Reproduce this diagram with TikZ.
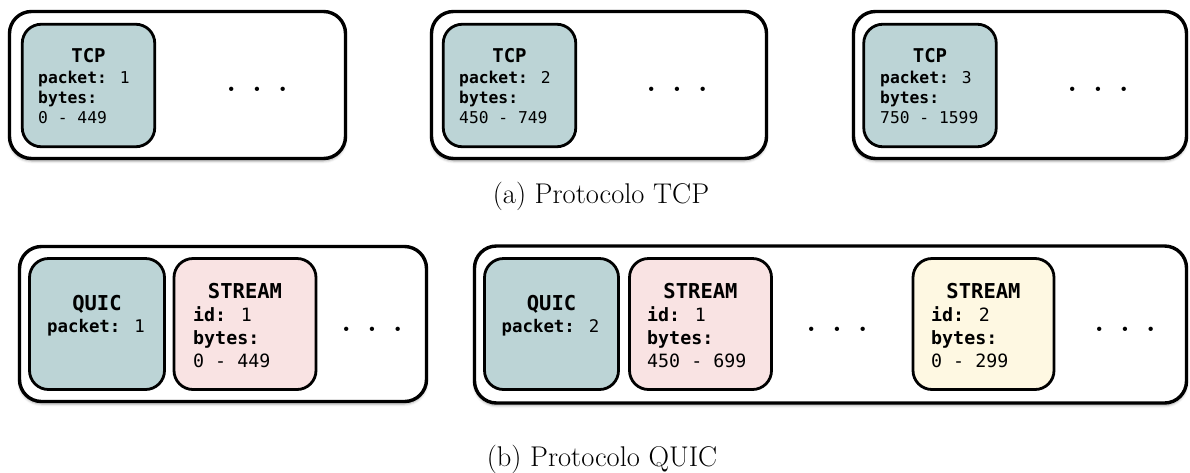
\documentclass[tikz,border=0pt]{standalone}
\usepackage{fontspec}
\newfontfamily\mono{DejaVu Sans Mono}
\usetikzlibrary{shadows.blur}

\definecolor{hdrteal}{RGB}{188,212,214}
\definecolor{streampink}{RGB}{249,227,227}
\definecolor{streamcream}{RGB}{254,248,226}

\newcommand{\moredots}{.\hspace{16.4pt}.\hspace{16.4pt}.}

\tikzset{
  frame/.style={draw=black, line width=3.4pt, rounded corners=22pt, fill=white,
    inner sep=0pt, blur shadow={shadow xshift=0pt, shadow yshift=-2.5pt,
    shadow blur radius=2.5pt, shadow opacity=35}},
  pkt/.style={draw=black, line width=2.8pt, rounded corners=19pt, inner sep=0pt,
    minimum height=131pt},
  tcpbox/.style={pkt, fill=hdrteal, minimum height=122.5pt, minimum width=132.5pt},
  quicbox/.style={pkt, fill=hdrteal, minimum width=135pt},
  s1box/.style={pkt, fill=streampink, minimum width=142pt},
  s2box/.style={pkt, fill=streamcream, minimum width=141pt},
  ttl/.style={anchor=base, inner sep=0pt, font=\mono\bfseries\fontsize{19}{19}\selectfont},
  ttlb/.style={anchor=base, inner sep=0pt, font=\mono\bfseries\fontsize{20.5}{20}\selectfont},
  fld/.style={anchor=base west, inner sep=0pt, font=\mono\fontsize{16.3}{16}\selectfont},
  fldb/.style={anchor=base west, inner sep=0pt, font=\mono\fontsize{18.3}{18}\selectfont},
  fldc/.style={anchor=base, inner sep=0pt, font=\mono\fontsize{17.4}{17}\selectfont},
  more/.style={anchor=base, inner sep=0pt, font=\bfseries\fontsize{30}{30}\selectfont},
  capt/.style={anchor=base, inner sep=0pt, font=\fontsize{28.5}{32}\selectfont},
}

\begin{document}
\begin{tikzpicture}[x=1pt, y=-1pt]
  \useasboundingbox (0,0) rectangle (1190,472);

  % ---- (a) TCP segments ----
  \node[frame, minimum width=336pt, minimum height=147pt] (t1) at (177.5,85) {};
  \node[frame, minimum width=335pt, minimum height=147pt] (t2) at (599,85) {};
  \node[frame, minimum width=333pt, minimum height=147pt] (t3) at (1020,85) {};

  \node[tcpbox] (h1) at (88.5,85.5) {};
  \node[tcpbox] (h2) at (509.5,85.5) {};
  \node[tcpbox] (h3) at (930,85.5) {};

  \node[ttl] (h1t) at (88.5,62) {TCP};
  \node[fld] (h1p) at (38,83) {\textbf{packet:} 1};
  \node[fld] (h1b) at (38,103) {\textbf{bytes:}};
  \node[fld] (h1r) at (38,123) {0 - 449};

  \node[ttl] (h2t) at (509.5,62) {TCP};
  \node[fld] (h2p) at (459,83) {\textbf{packet:} 2};
  \node[fld] (h2b) at (459,103) {\textbf{bytes:}};
  \node[fld] (h2r) at (459,123) {450 - 749};

  \node[ttl] (h3t) at (930,62) {TCP};
  \node[fld] (h3p) at (880,83) {\textbf{packet:} 3};
  \node[fld] (h3b) at (880,103) {\textbf{bytes:}};
  \node[fld] (h3r) at (880,123) {750 - 1599};

  \node[more] (m1) at (257,91.5) {\moredots};
  \node[more] (m2) at (677,91.5) {\moredots};
  \node[more] (m3) at (1098,91.5) {\moredots};

  \node[capt] (capa) at (601,203) {(a) Protocolo TCP};

  % ---- (b) QUIC packets ----
  \node[frame, minimum width=407pt, minimum height=155pt] (p1) at (223,324) {};
  \node[frame, minimum width=712pt, minimum height=157pt] (p2) at (830.5,324.5) {};

  \node[quicbox] (q1) at (97,324) {};
  \node[s1box] (sa) at (245,324) {};
  \node[quicbox, minimum width=134pt] (q2) at (551.5,324) {};
  \node[s1box] (sb) at (700.5,324) {};
  \node[s2box] (sc) at (983.5,324) {};

  \node[ttlb] (q1t) at (97,310) {QUIC};
  \node[fldc] (q1p) at (96,332) {\textbf{packet:} 1};
  \node[ttlb] (q2t) at (551.5,310) {QUIC};
  \node[fldc] (q2p) at (550.5,332) {\textbf{packet:} 2};

  \node[ttlb] (sat) at (245,298) {STREAM};
  \node[fldb] (sai) at (193,321) {\textbf{id:} 1};
  \node[fldb] (sab) at (193,344) {\textbf{bytes:}};
  \node[fldb] (sar) at (193,367) {0 - 449};

  \node[ttlb] (sbt) at (700.5,298) {STREAM};
  \node[fldb] (sbi) at (647,321) {\textbf{id:} 1};
  \node[fldb] (sbb) at (647,344) {\textbf{bytes:}};
  \node[fldb] (sbr) at (647,367) {450 - 699};

  \node[ttlb] (sct) at (983.5,298) {STREAM};
  \node[fldb] (sci) at (931,321) {\textbf{id:} 2};
  \node[fldb] (scb) at (931,344) {\textbf{bytes:}};
  \node[fldb] (scr) at (931,367) {0 - 299};

  \node[more] (m4) at (372,331.5) {\moredots};
  \node[more] (m5) at (837,331.5) {\moredots};
  \node[more] (m6) at (1125,331.5) {\moredots};

  \node[capt] (capb) at (602,466) {(b) Protocolo QUIC};
\end{tikzpicture}
\end{document}
